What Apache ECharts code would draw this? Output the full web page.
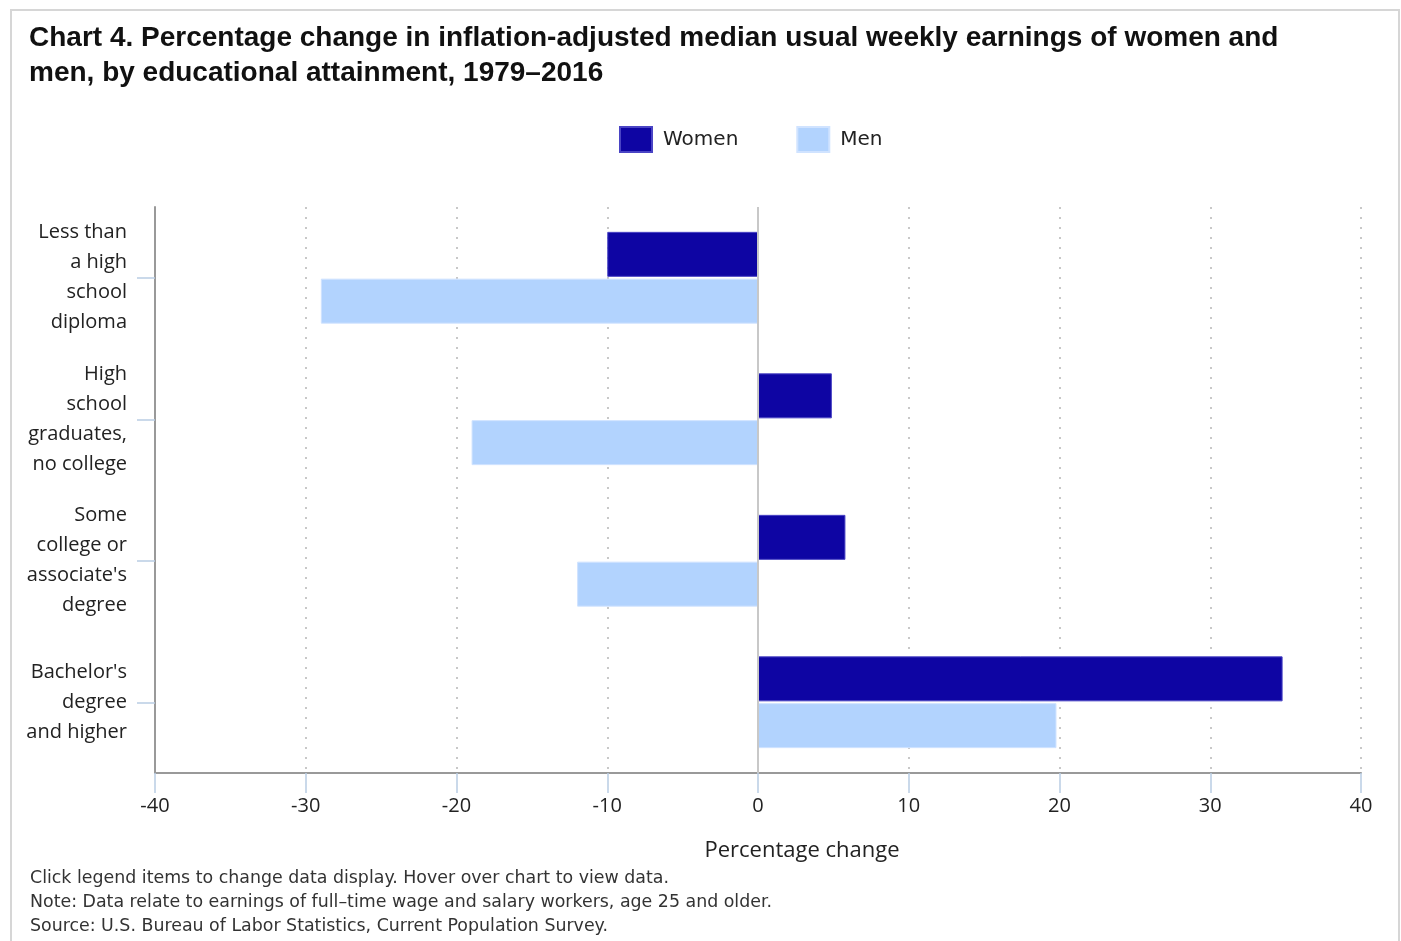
<!DOCTYPE html>
<html>
<head>
<meta charset="utf-8">
<script src="https://cdn.jsdelivr.net/npm/echarts@6/dist/echarts.min.js"></script>
<style>
html,body{margin:0;padding:0;background:#fff;}
#frame{position:absolute;left:10px;top:9px;width:1390px;height:940px;border:2px solid #d6d6d6;border-bottom:none;box-sizing:border-box;}
#chart{position:absolute;left:0;top:0;width:1401px;height:941px;}
</style>
</head>
<body>
<div id="frame"></div>
<div id="chart"></div>
<script>
const categories = [
  "Less than\na high\nschool\ndiploma",
  "High\nschool\ngraduates,\nno college",
  "Some\ncollege or\nassociate's\ndegree",
  "Bachelor's\ndegree\nand higher"
];
const women = [-10.0, 4.9, 5.8, 34.8];
const men = [-29.0, -19.0, -12.0, 19.8];
const xTicks = [-40, -30, -20, -10, 0, 10, 20, 30, 40];

const chart = echarts.init(document.getElementById('chart'));
chart.setOption({
  animation: false,
  title: [{
    text: "Chart 4. Percentage change in inflation-adjusted median usual weekly earnings of women and\nmen, by educational attainment, 1979\u20132016",
    left: 24, top: 16,
    textStyle: {fontFamily: 'Liberation Sans, Arial', fontWeight: 'bold', fontSize: 28, lineHeight: 35, color: '#111'}
  }, {
    text: "Percentage change",
    left: 797, top: 835, textAlign: 'center',
    textStyle: {fontFamily: 'Open Sans', fontWeight: 'normal', fontSize: 22, color: '#222'}
  }, {
    text: "Click legend items to change data display. Hover over chart to view data.\nNote: Data relate to earnings of full\u2013time wage and salary workers, age 25 and older.\nSource: U.S. Bureau of Labor Statistics, Current Population Survey.",
    left: 25, top: 861,
    textStyle: {fontFamily: 'DejaVu Sans', fontWeight: 'normal', fontSize: 17.4, lineHeight: 24, color: '#333'}
  }],
  legend: {
    data: ['Women', 'Men'],
    left: 614, top: 121,
    itemWidth: 32, itemHeight: 25, itemGap: 58,
    textStyle: {fontFamily: 'DejaVu Sans', fontSize: 20, color: '#222', padding: [0, 0, 0, 6]},
    icon: 'rect'
  },
  grid: {left: 155, right: 40, top: 207, bottom: 168},
  xAxis: {
    type: 'value', min: -40, max: 40, interval: 10,
    axisLine: {show: true, onZero: false, lineStyle: {color: '#999', width: 2}},
    axisTick: {show: true, length: 20, lineStyle: {color: '#b9cde4', width: 1.5}},
    axisLabel: {margin: 23, fontFamily: 'Open Sans', fontSize: 20, color: '#222',
      formatter: v => xTicks.includes(v) ? String(v) : ''},
    splitLine: {show: true, lineStyle: {color: '#c8c8c8', width: 2, type: [2, 8]}}
  },
  yAxis: {
    type: 'category', data: categories, inverse: true,
    axisLine: {show: true, onZero: false, lineStyle: {color: '#999', width: 2}},
    axisTick: {show: true, alignWithLabel: true, length: 18, lineStyle: {color: '#b9cde4', width: 1.5}},
    axisLabel: {margin: 28, fontFamily: 'Open Sans', fontSize: 20, lineHeight: 30, color: '#222', align: 'right', padding: [8, 0, 0, 0]},
    splitLine: {show: false}
  },
  series: [{
    name: 'Women', type: 'bar', data: women,
    barWidth: 45, barGap: '4%',
    itemStyle: {color: '#0E05A3', borderColor: '#4a44c4', borderWidth: 1},
    markLine: {
      silent: true, symbol: 'none', label: {show: false},
      lineStyle: {color: '#c8c8c8', width: 2, type: 'solid'},
      data: [{xAxis: 0}]
    }
  }, {
    name: 'Men', type: 'bar', data: men,
    barWidth: 45, barGap: '4%',
    itemStyle: {color: '#B2D3FE', borderColor: '#d0e3ff', borderWidth: 1}
  }]
});
</script>
</body>
</html>
